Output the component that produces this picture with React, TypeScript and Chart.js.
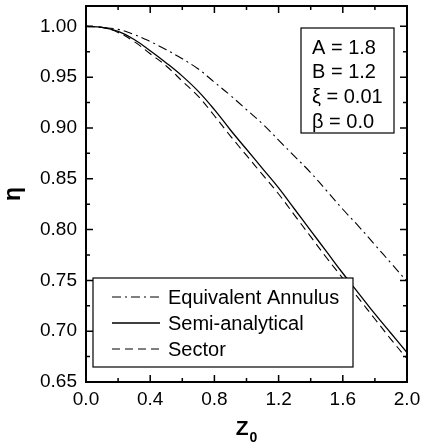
import React, { useEffect, useRef } from "react";
import { Chart, registerables } from "chart.js";

Chart.register(...registerables);

// ---------------- data ----------------
const zValues = [0, 0.1, 0.2, 0.3, 0.4, 0.5, 0.6, 0.7, 0.8, 0.9, 1.0, 1.1, 1.2, 1.3, 1.4, 1.5, 1.6, 1.7, 1.8, 1.9, 2.0];
const equivalentAnnulus = [1.0, 0.999, 0.997, 0.992, 0.985, 0.977, 0.968, 0.958, 0.945, 0.932, 0.918, 0.904, 0.888, 0.872, 0.856, 0.838, 0.82, 0.803, 0.785, 0.767, 0.749];
const semiAnalytical = [1.0, 0.999, 0.995, 0.987, 0.976, 0.964, 0.951, 0.936, 0.918, 0.898, 0.879, 0.86, 0.841, 0.82, 0.799, 0.778, 0.757, 0.737, 0.717, 0.698, 0.679];
const sector = [1.0, 0.999, 0.994, 0.985, 0.973, 0.961, 0.946, 0.931, 0.912, 0.892, 0.873, 0.854, 0.835, 0.814, 0.793, 0.772, 0.752, 0.732, 0.712, 0.692, 0.673];

const seriesLabels = ["Equivalent Annulus", "Semi-analytical", "Sector"];
const xTicks = [0, 0.4, 0.8, 1.2, 1.6, 2.0];
const xMinorTicks = [0.2, 0.6, 1.0, 1.4, 1.8];
const yTicks = [0.65, 0.7, 0.75, 0.8, 0.85, 0.9, 0.95, 1.0];
const yMinorTicks = [0.675, 0.725, 0.775, 0.825, 0.875, 0.925, 0.975];
const paramLines = ["A = 1.8", "B = 1.2", "ξ = 0.01", "β = 0.0"];
const xTitle = "Z";
const xTitleSub = "0";
const yTitle = "η";

const FONT = "'Liberation Sans', Arial, Helvetica, sans-serif";

const toPoints = (ys: number[]) => zValues.map((x, i) => ({ x, y: ys[i] }));

const framePlugin = {
  id: "frameTicks",
  afterDatasetsDraw(chart: any) {
    const { ctx, chartArea: a, scales } = chart;
    const xs = scales.x;
    const ys = scales.y;
    ctx.save();
    ctx.strokeStyle = "#000";
    ctx.lineWidth = 1.5;
    const major = 7;
    const minor = 4;
    ctx.beginPath();
    const xt = (v: number, len: number) => {
      const px = xs.getPixelForValue(v);
      ctx.moveTo(px, a.bottom);
      ctx.lineTo(px, a.bottom - len);
      ctx.moveTo(px, a.top);
      ctx.lineTo(px, a.top + len);
    };
    const yt = (v: number, len: number) => {
      const py = ys.getPixelForValue(v);
      ctx.moveTo(a.left, py);
      ctx.lineTo(a.left + len, py);
      ctx.moveTo(a.right, py);
      ctx.lineTo(a.right - len, py);
    };
    xTicks.forEach((v) => xt(v, major));
    xMinorTicks.forEach((v) => xt(v, minor));
    yTicks.forEach((v) => yt(v, major));
    yMinorTicks.forEach((v) => yt(v, minor));
    ctx.stroke();
    ctx.lineWidth = 2;
    ctx.strokeRect(a.left, a.top, a.right - a.left, a.bottom - a.top);
    ctx.restore();
  },
};

const boxesPlugin = {
  id: "boxes",
  afterDraw(chart: any) {
    const { ctx, chartArea: a } = chart;
    ctx.save();
    // legend box
    const lx = a.left + 7;
    const lw = 260;
    const lb = a.bottom - 15;
    const lh = 89;
    const ly = lb - lh;
    ctx.fillStyle = "#fff";
    ctx.fillRect(lx, ly, lw, lh);
    ctx.strokeStyle = "#000";
    ctx.lineWidth = 1.2;
    ctx.strokeRect(lx, ly, lw, lh);
    ctx.font = `20px ${FONT}`;
    ctx.textBaseline = "middle";
    ctx.textAlign = "left";
    chart.data.datasets.forEach((ds: any, i: number) => {
      const cy = ly + 19 + i * 26;
      ctx.beginPath();
      ctx.setLineDash(ds.borderDash || []);
      ctx.lineWidth = ds.borderWidth;
      ctx.strokeStyle = "#000";
      ctx.moveTo(lx + 19, cy);
      ctx.lineTo(lx + 67, cy);
      ctx.stroke();
      ctx.setLineDash([]);
      ctx.fillStyle = "#000";
      ctx.fillText(ds.label, lx + 75, cy + 1);
    });

    // parameter box
    const px = a.right - 106;
    const py = a.top + 22;
    const pw = 93;
    const ph = 105;
    ctx.fillStyle = "#fff";
    ctx.fillRect(px, py, pw, ph);
    ctx.lineWidth = 1.2;
    ctx.strokeStyle = "#000";
    ctx.strokeRect(px, py, pw, ph);
    ctx.fillStyle = "#000";
    paramLines.forEach((t, i) => {
      ctx.fillText(t, px + 11, py + 20 + i * 24.7);
    });

    // axis titles
    ctx.font = `bold 21px ${FONT}`;
    ctx.textBaseline = "alphabetic";
    const zw = ctx.measureText(xTitle).width;
    ctx.font = `bold 14px ${FONT}`;
    const sw = ctx.measureText(xTitleSub).width;
    const cx = (a.left + a.right) / 2;
    const start = cx - (zw + sw + 1) / 2;
    ctx.font = `bold 21px ${FONT}`;
    ctx.fillText(xTitle, start, 435);
    ctx.font = `bold 14px ${FONT}`;
    ctx.fillText(xTitleSub, start + zw + 1, 442);

    ctx.translate(14, (a.top + a.bottom) / 2);
    ctx.rotate(-Math.PI / 2);
    ctx.font = `bold 23px ${FONT}`;
    ctx.textAlign = "center";
    ctx.textBaseline = "middle";
    ctx.fillText(yTitle, 0, 0);
    ctx.restore();
  },
};

export default function App() {
  const ref = useRef<HTMLCanvasElement | null>(null);
  useEffect(() => {
    if (!ref.current) return;
    const chart = new Chart(ref.current, {
      type: "line",
      data: {
        datasets: [
          {
            label: seriesLabels[0],
            data: toPoints(equivalentAnnulus),
            borderColor: "#000",
            borderWidth: 1.1,
            borderDash: [9, 4, 2, 4],
            pointRadius: 0,
            tension: 0.4,
            fill: false,
          },
          {
            label: seriesLabels[1],
            data: toPoints(semiAnalytical),
            borderColor: "#000",
            borderWidth: 1.3,
            borderDash: [],
            pointRadius: 0,
            tension: 0.4,
            fill: false,
          },
          {
            label: seriesLabels[2],
            data: toPoints(sector),
            borderColor: "#000",
            borderWidth: 1.1,
            borderDash: [8, 5],
            pointRadius: 0,
            tension: 0.4,
            fill: false,
          },
        ],
      },
      plugins: [framePlugin, boxesPlugin],
      options: {
        animation: false,
        responsive: false,
        maintainAspectRatio: false,
        layout: { padding: { top: 6, right: 15, left: 0, bottom: 0 } },
        plugins: { legend: { display: false }, tooltip: { enabled: false }, title: { display: false } },
        scales: {
          x: {
            type: "linear",
            min: 0,
            max: 2,
            grid: { display: false, drawTicks: false },
            border: { display: false },
            afterBuildTicks: (s: any) => {
              s.ticks = xTicks.map((v) => ({ value: v }));
            },
            afterFit: (s: any) => {
              s.height = 65;
              s.paddingLeft = 0;
              s.paddingRight = 0;
              s.paddingTop = 0;
              s.paddingBottom = 0;
            },
            ticks: {
              color: "#000",
              padding: 6,
              maxRotation: 0,
              font: { family: FONT, size: 19 },
              callback: (v: any) => Number(v).toFixed(1),
            },
          },
          y: {
            type: "linear",
            min: 0.65,
            max: 1.02,
            grid: { display: false, drawTicks: false },
            border: { display: false },
            afterBuildTicks: (s: any) => {
              s.ticks = yTicks.map((v) => ({ value: v }));
            },
            afterFit: (s: any) => {
              s.width = 86;
              s.paddingLeft = 0;
              s.paddingRight = 0;
              s.paddingTop = 0;
              s.paddingBottom = 0;
            },
            ticks: {
              color: "#000",
              padding: 9,
              font: { family: FONT, size: 19 },
              callback: (v: any) => Number(v).toFixed(2),
            },
          },
        },
      },
    });
    return () => chart.destroy();
  }, []);
  return (
    <div style={{ position: "fixed", left: 0, top: 0, width: 422, height: 447, background: "#fff" }}>
      <canvas ref={ref} width={422} height={447} style={{ width: 422, height: 447, display: "block" }} />
    </div>
  );
}
